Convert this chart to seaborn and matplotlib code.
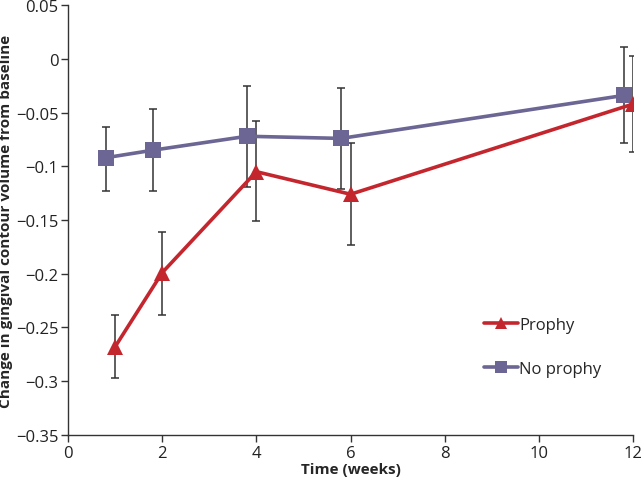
import matplotlib
matplotlib.use("Agg")
import matplotlib.pyplot as plt
import pandas as pd
import seaborn as sns

# Values
prophy_weeks = [1, 2, 4, 6, 12]
prophy_mean = [-0.268, -0.199, -0.105, -0.126, -0.042]
prophy_upper = [-0.238, -0.161, -0.058, -0.078, 0.003]
prophy_lower = [-0.297, -0.238, -0.151, -0.173, -0.087]

noprophy_weeks = [0.8, 1.8, 3.8, 5.8, 11.8]
noprophy_mean = [-0.092, -0.085, -0.072, -0.074, -0.034]
noprophy_upper = [-0.063, -0.047, -0.025, -0.027, 0.011]
noprophy_lower = [-0.123, -0.123, -0.119, -0.121, -0.078]

x_ticks = [0, 2, 4, 6, 8, 10, 12]
y_ticks = [0.05, 0, -0.05, -0.1, -0.15, -0.2, -0.25, -0.3, -0.35]


def build_frame():
    """Combine both groups into one long DataFrame."""
    a = pd.DataFrame({"week": prophy_weeks, "mean": prophy_mean,
                      "upper": prophy_upper, "lower": prophy_lower})
    a["group"] = "Prophy"
    b = pd.DataFrame({"week": noprophy_weeks, "mean": noprophy_mean,
                      "upper": noprophy_upper, "lower": noprophy_lower})
    b["group"] = "No prophy"
    return pd.concat([a, b], ignore_index=True)


def fmt(v):
    if abs(v) < 1e-9:
        return "0"
    s = f"{v:g}"
    return s.replace("-", "\u2212")


def main():
    sns.set_style("ticks")
    plt.rcParams["font.family"] = ["Open Sans", "DejaVu Sans"]

    data = build_frame()
    colors = {"Prophy": "#C4262E", "No prophy": "#6B6694"}
    markers = {"Prophy": "^", "No prophy": "s"}

    fig = plt.figure(figsize=(6.42, 4.81), dpi=100)
    ax = fig.add_axes([0.106, 0.094, 0.88, 0.893])

    # error bars underneath the lines
    for grp in ["No prophy", "Prophy"]:
        d = data[data["group"] == grp]
        ax.errorbar(d["week"], d["mean"],
                    yerr=[d["mean"] - d["lower"], d["upper"] - d["mean"]],
                    fmt="none", ecolor="#333333", elinewidth=1.1,
                    capsize=3.2, capthick=1.1, zorder=1)

    for grp, z in [("No prophy", 2), ("Prophy", 3)]:
        d = data[data["group"] == grp]
        sns.lineplot(data=d, x="week", y="mean", ax=ax, color=colors[grp],
                     marker=markers[grp], markersize=12, linewidth=2.6,
                     markeredgewidth=0, label=grp, zorder=z, sort=False)

    ax.set_xlim(0, 12)
    ax.set_ylim(-0.35, 0.05)
    ax.set_xticks(x_ticks)
    ax.set_yticks(y_ticks)
    ax.set_yticklabels([fmt(v) for v in y_ticks])
    ax.tick_params(axis="both", labelsize=12, direction="out", length=5,
                   width=1, color="#333333", labelcolor="#222222", pad=2)
    sns.despine(ax=ax)
    for s in ["left", "bottom"]:
        ax.spines[s].set_color("#333333")
        ax.spines[s].set_linewidth(1)

    ax.set_xlabel("Time (weeks)", fontsize=11, fontweight="bold", labelpad=1)
    ax.set_ylabel("Change in gingival contour volume from baseline",
                  fontsize=11, fontweight="bold", labelpad=2)

    handles, labels = ax.get_legend_handles_labels()
    order = [labels.index("Prophy"), labels.index("No prophy")]
    ax.legend([handles[i] for i in order], [labels[i] for i in order],
              loc="center left", bbox_to_anchor=(0.71, 0.205), frameon=False,
              fontsize=12, markerscale=0.75, handlelength=2.0,
              handletextpad=0.1, labelspacing=1.7)

    fig.savefig("out.png", dpi=100)
    plt.close(fig)


if __name__ == "__main__":
    main()
